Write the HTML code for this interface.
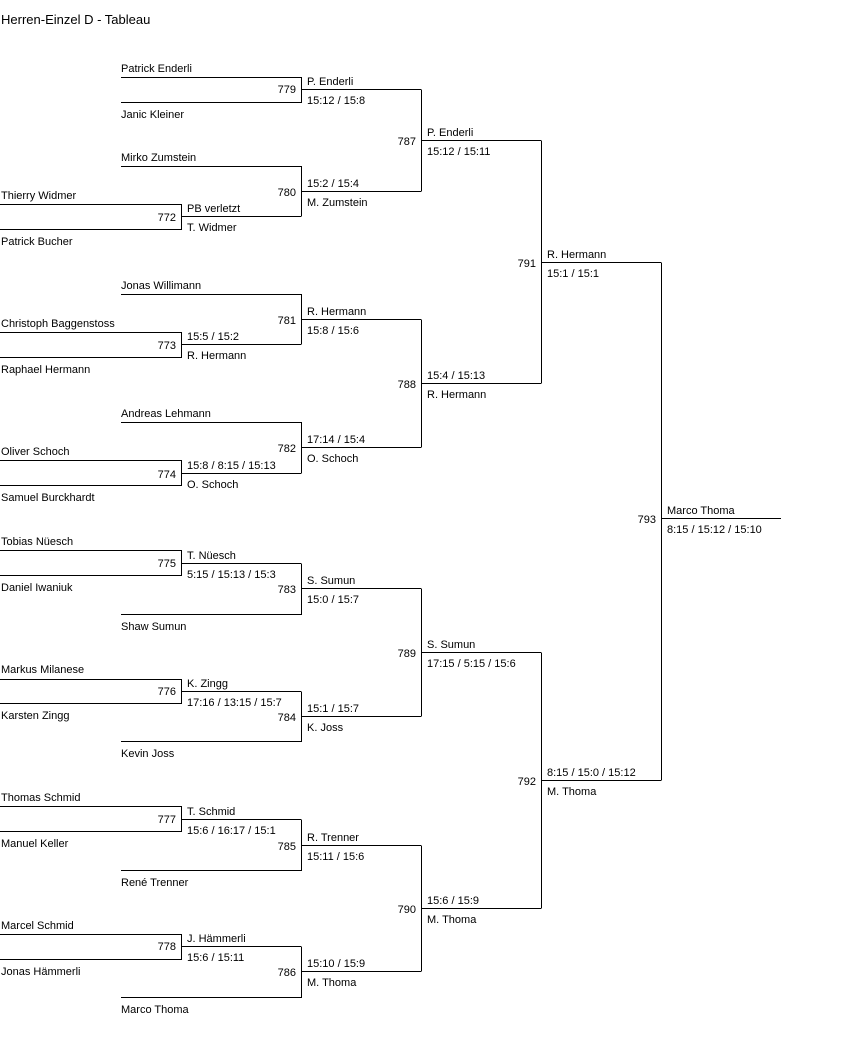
<!DOCTYPE html>
<html><head><meta charset="utf-8"><style>
html,body{margin:0;padding:0;background:#fff;}
svg{display:block;}
text{font-family:"Liberation Sans",Arial,sans-serif;font-size:11px;fill:#000;}
.n{text-anchor:end;}
</style></head><body>
<svg width="841" height="1040" xmlns="http://www.w3.org/2000/svg" shape-rendering="crispEdges">
<text x="1" y="24" style="font-size:13px">Herren-Einzel D - Tableau</text>
<g stroke="#000" stroke-width="1" fill="none">
<path d="M0 204.5H181.5V229.5H0 M181 216.5H301"/>
<path d="M0 332.5H181.5V357.5H0 M181 344.5H301"/>
<path d="M0 460.5H181.5V485.5H0 M181 473.5H301"/>
<path d="M0 550.5H181.5V575.5H0 M181 563.5H301"/>
<path d="M0 679.5H181.5V703.5H0 M181 691.5H301"/>
<path d="M0 806.5H181.5V831.5H0 M181 819.5H301"/>
<path d="M0 934.5H181.5V959.5H0 M181 946.5H301"/>
<path d="M121 77.5H301.5V102.5H121 M301 89.5H421"/>
<path d="M121 166.5H301.5V216.5 M301 191.5H421"/>
<path d="M121 294.5H301.5V344.5 M301 319.5H421"/>
<path d="M121 422.5H301.5V473.5 M301 447.5H421"/>
<path d="M121 614.5H301.5V563.5 M301 588.5H421"/>
<path d="M121 741.5H301.5V691.5 M301 716.5H421"/>
<path d="M121 870.5H301.5V819.5 M301 845.5H421"/>
<path d="M121 997.5H301.5V946.5 M301 971.5H421"/>
<path d="M421.5 89.5V191.5 M421 140.5H541"/>
<path d="M421.5 319.5V447.5 M421 383.5H541"/>
<path d="M421.5 588.5V716.5 M421 652.5H541"/>
<path d="M421.5 845.5V971.5 M421 908.5H541"/>
<path d="M541.5 140.5V383.5 M541 262.5H661"/>
<path d="M541.5 652.5V908.5 M541 780.5H661"/>
<path d="M661.5 262.5V780.5 M661 518.5H781"/>
</g>
<text x="1" y="199">Thierry Widmer</text><text x="1" y="245">Patrick Bucher</text>
<text x="1" y="327">Christoph Baggenstoss</text><text x="1" y="373">Raphael Hermann</text>
<text x="1" y="455">Oliver Schoch</text><text x="1" y="501">Samuel Burckhardt</text>
<text x="1" y="545">Tobias Nüesch</text><text x="1" y="591">Daniel Iwaniuk</text>
<text x="1" y="673">Markus Milanese</text><text x="1" y="719">Karsten Zingg</text>
<text x="1" y="801">Thomas Schmid</text><text x="1" y="847">Manuel Keller</text>
<text x="1" y="929">Marcel Schmid</text><text x="1" y="975">Jonas Hämmerli</text>
<text x="121" y="72">Patrick Enderli</text><text x="121" y="118">Janic Kleiner</text>
<text x="121" y="161">Mirko Zumstein</text>
<text x="121" y="289">Jonas Willimann</text>
<text x="121" y="417">Andreas Lehmann</text>
<text x="121" y="630">Shaw Sumun</text>
<text x="121" y="757">Kevin Joss</text>
<text x="121" y="886">René Trenner</text>
<text x="121" y="1013">Marco Thoma</text>
<text class="n" x="176" y="221">772</text>
<text class="n" x="176" y="349">773</text>
<text class="n" x="176" y="478">774</text>
<text class="n" x="176" y="567">775</text>
<text class="n" x="176" y="695">776</text>
<text class="n" x="176" y="823">777</text>
<text class="n" x="176" y="950">778</text>
<text class="n" x="296" y="93">779</text>
<text class="n" x="296" y="196">780</text>
<text class="n" x="296" y="324">781</text>
<text class="n" x="296" y="452">782</text>
<text class="n" x="296" y="593">783</text>
<text class="n" x="296" y="721">784</text>
<text class="n" x="296" y="850">785</text>
<text class="n" x="296" y="976">786</text>
<text class="n" x="416" y="145">787</text>
<text class="n" x="416" y="388">788</text>
<text class="n" x="416" y="657">789</text>
<text class="n" x="416" y="913">790</text>
<text class="n" x="536" y="267">791</text>
<text class="n" x="536" y="785">792</text>
<text class="n" x="656" y="523">793</text>
<text x="187" y="212">PB verletzt</text><text x="187" y="231">T. Widmer</text>
<text x="187" y="340">15:5 / 15:2</text><text x="187" y="359">R. Hermann</text>
<text x="187" y="469">15:8 / 8:15 / 15:13</text><text x="187" y="488">O. Schoch</text>
<text x="187" y="559">T. Nüesch</text><text x="187" y="578">5:15 / 15:13 / 15:3</text>
<text x="187" y="687">K. Zingg</text><text x="187" y="706">17:16 / 13:15 / 15:7</text>
<text x="187" y="815">T. Schmid</text><text x="187" y="834">15:6 / 16:17 / 15:1</text>
<text x="187" y="942">J. Hämmerli</text><text x="187" y="961">15:6 / 15:11</text>
<text x="307" y="85">P. Enderli</text><text x="307" y="104">15:12 / 15:8</text>
<text x="307" y="187">15:2 / 15:4</text><text x="307" y="206">M. Zumstein</text>
<text x="307" y="315">R. Hermann</text><text x="307" y="334">15:8 / 15:6</text>
<text x="307" y="443">17:14 / 15:4</text><text x="307" y="462">O. Schoch</text>
<text x="307" y="584">S. Sumun</text><text x="307" y="603">15:0 / 15:7</text>
<text x="307" y="712">15:1 / 15:7</text><text x="307" y="731">K. Joss</text>
<text x="307" y="841">R. Trenner</text><text x="307" y="860">15:11 / 15:6</text>
<text x="307" y="967">15:10 / 15:9</text><text x="307" y="986">M. Thoma</text>
<text x="427" y="136">P. Enderli</text><text x="427" y="155">15:12 / 15:11</text>
<text x="427" y="379">15:4 / 15:13</text><text x="427" y="398">R. Hermann</text>
<text x="427" y="648">S. Sumun</text><text x="427" y="667">17:15 / 5:15 / 15:6</text>
<text x="427" y="904">15:6 / 15:9</text><text x="427" y="923">M. Thoma</text>
<text x="547" y="258">R. Hermann</text><text x="547" y="277">15:1 / 15:1</text>
<text x="547" y="776">8:15 / 15:0 / 15:12</text><text x="547" y="795">M. Thoma</text>
<text x="667" y="514">Marco Thoma</text><text x="667" y="533">8:15 / 15:12 / 15:10</text>
</svg>
</body></html>
